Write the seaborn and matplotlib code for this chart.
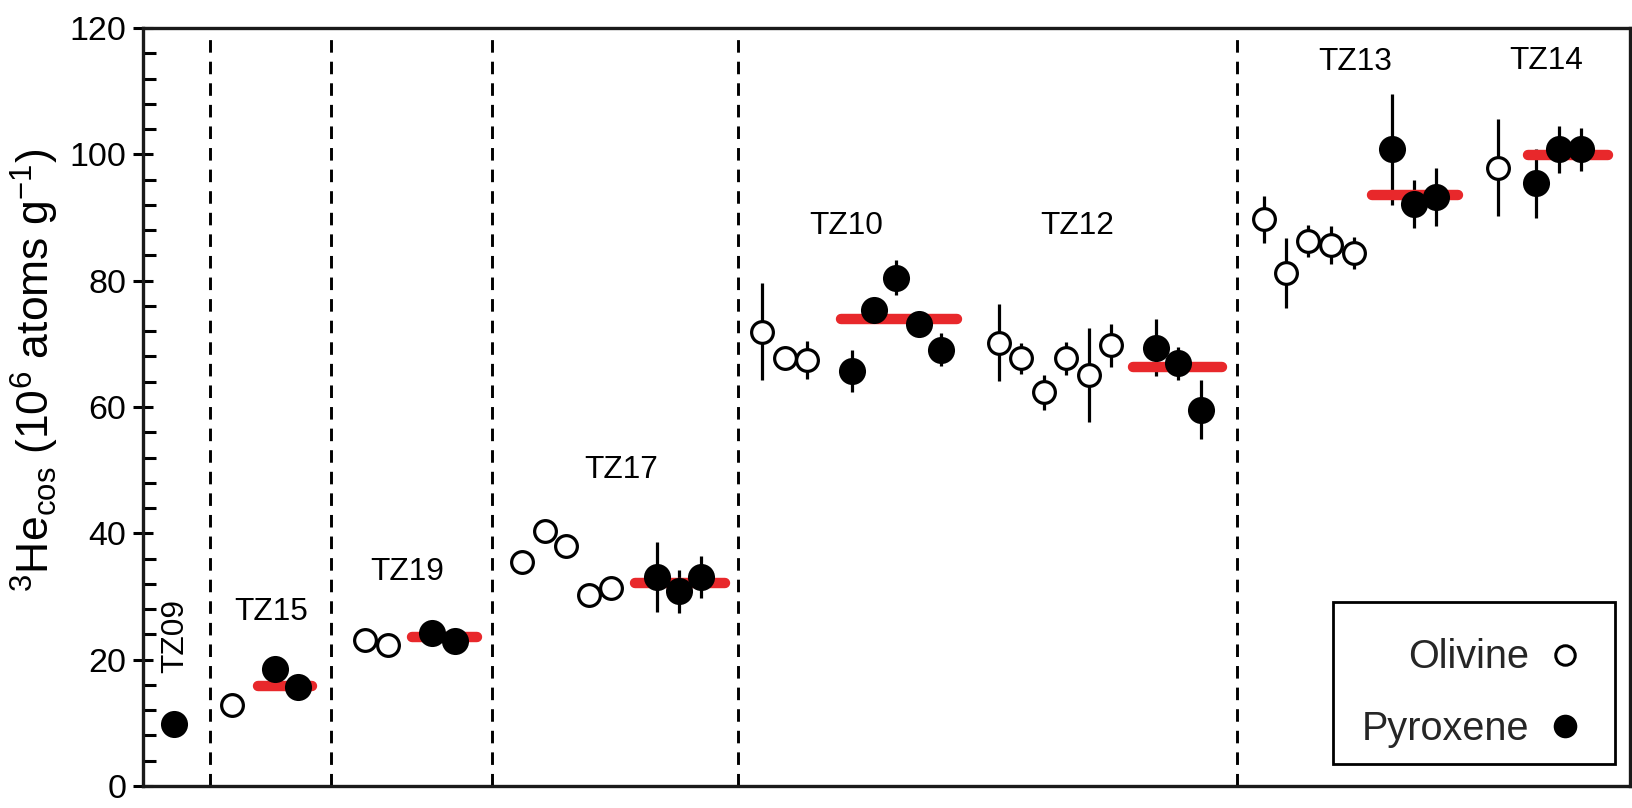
import matplotlib
matplotlib.use("Agg")
import matplotlib.pyplot as plt
from matplotlib.lines import Line2D
from matplotlib.patches import Rectangle
from matplotlib.ticker import MultipleLocator
import seaborn as sns
import pandas as pd

# ---------------- data ----------------
# olivine samples: position (sample slot), value, 1-sigma half-width
oli_x = [3.96, 9.93, 10.96, 16.94, 17.95, 18.91, 19.91, 20.92,
         27.63, 28.66, 29.64,
         38.21, 39.20, 40.22, 41.20, 42.23, 43.24,
         50.04, 51.03, 52.01, 53.04, 54.06, 60.49]
oli_y = [12.8, 23.1, 22.3, 35.5, 40.4, 38.0, 30.2, 31.4,
         71.9, 67.7, 67.4,
         70.2, 67.7, 62.3, 67.7, 65.1, 69.8,
         89.7, 81.2, 86.3, 85.6, 84.4, 97.9]
oli_err = [0, 0, 0, 0, 0, 0, 0, 0,
           7.7, 1.5, 3.0,
           6.1, 2.5, 2.8, 2.6, 7.4, 3.4,
           3.7, 5.5, 2.5, 3.0, 2.5, 7.7]

# pyroxene samples
pyx_x = [1.40, 5.89, 6.93, 12.92, 13.95, 22.93, 23.93, 24.91,
         31.64, 32.63, 33.62, 34.63, 35.63,
         45.22, 46.21, 47.23,
         55.76, 56.74, 57.72, 62.19, 63.21, 64.20]
pyx_y = [9.8, 18.6, 15.7, 24.2, 23.0, 33.1, 30.8, 33.1,
         65.7, 75.4, 80.5, 73.2, 69.1,
         69.4, 66.9, 59.6,
         100.8, 92.2, 93.3, 95.4, 100.8, 100.8]
pyx_err = [0, 0, 0, 0, 0, 5.6, 3.4, 3.3,
           3.4, 1.5, 2.8, 1.5, 2.6,
           4.5, 2.6, 4.7,
           8.8, 3.8, 4.6, 5.4, 3.7, 3.4]

# pyroxene mean (red bars)
mean_x0 = [5.13, 12.03, 21.96, 31.16, 44.21, 54.86, 61.83]
mean_x1 = [7.53, 14.91, 25.99, 36.33, 48.17, 58.71, 65.41]
mean_y = [15.9, 23.6, 32.2, 73.9, 66.4, 93.6, 99.9]

# section dividers
divider_x = [2.97, 8.39, 15.57, 26.56, 48.84]

# sample labels
label_text = ["TZ09", "TZ15", "TZ19", "TZ17", "TZ10", "TZ12", "TZ13", "TZ14"]
label_x = [1.43, 5.71, 11.81, 21.37, 31.38, 41.70, 54.11, 62.66]
label_y = [23.7, 27.6, 33.9, 50.0, 88.7, 88.7, 114.6, 114.8]
label_rot = [90, 0, 0, 0, 0, 0, 0, 0]

# ---------------- style ----------------
sns.set_theme(style="ticks")
plt.rcParams["font.family"] = ["Liberation Sans", "DejaVu Sans"]
plt.rcParams["mathtext.fontset"] = "custom"
plt.rcParams["mathtext.rm"] = "Liberation Sans"
plt.rcParams["mathtext.it"] = "Liberation Sans:italic"

fig = plt.figure(figsize=(16.32, 8.08), dpi=100)
ax = fig.add_axes([143 / 1632, 22 / 808, 1487 / 1632, 758 / 808])

oli = pd.DataFrame({"x": oli_x, "y": oli_y, "err": oli_err})
pyx = pd.DataFrame({"x": pyx_x, "y": pyx_y, "err": pyx_err})

# dividers
for xv in divider_x:
    ax.axvline(xv, ymin=0.0, ymax=0.995, color="black", lw=2.1,
               dashes=(4.3, 3.1), zorder=1)

# error bars
for df in (oli, pyx):
    m = df["err"] > 0
    ax.errorbar(df.loc[m, "x"], df.loc[m, "y"], yerr=df.loc[m, "err"],
                fmt="none", ecolor="black", elinewidth=2.3, capsize=0, zorder=2)

# mean bars
for x0, x1, yv in zip(mean_x0, mean_x1, mean_y):
    ax.plot([x0, x1], [yv, yv], color="#e8282b", lw=7.5,
            solid_capstyle="round", zorder=3)

# markers
sns.scatterplot(data=oli, x="x", y="y", ax=ax, s=245, color="white",
                edgecolor="black", linewidth=2.3, zorder=4, legend=False)
sns.scatterplot(data=pyx, x="x", y="y", ax=ax, s=380, color="black",
                edgecolor="black", linewidth=0, zorder=5, legend=False)

# labels
for t, xv, yv, r in zip(label_text, label_x, label_y, label_rot):
    ax.text(xv, yv, t, ha="center", va="center", rotation=r, fontsize=22.8,
            color="black", zorder=6)

ax.set_xlim(0, 66.4)
ax.set_ylim(0, 120)
ax.set_xticks([])
ax.yaxis.set_major_locator(MultipleLocator(20))
ax.yaxis.set_minor_locator(MultipleLocator(4))
ax.tick_params(axis="y", which="major", direction="inout", length=14,
               width=2.2, labelsize=24.5, pad=5, color="black", labelcolor="black")
ax.tick_params(axis="y", which="minor", direction="in", length=9,
               width=2.2, color="black")
for sp in ax.spines.values():
    sp.set_linewidth(2.4)
    sp.set_color("#1a1a1a")
ax.set_xlabel("")
ax.set_ylabel(r"$^{3}$He$_{\mathrm{cos}}$ (10$^{6}$ atoms g$^{-1}$)",
              fontsize=32, color="black")
ax.yaxis.set_label_coords(-0.055, 0.549)

# legend: frame drawn as a box in axes coordinates, entries placed inside
legend_box = Rectangle((0.8003, 0.029), 0.1896, 0.2141, transform=ax.transAxes,
                       facecolor="white", edgecolor="black", lw=2.0, zorder=7)
ax.add_patch(legend_box)
handles = [
    Line2D([], [], ls="none", marker="o", ms=14, mfc="white", mec="black",
           mew=2.2, label="Olivine"),
    Line2D([], [], ls="none", marker="o", ms=17, mfc="black", mec="black",
           mew=0, label="Pyroxene"),
]
leg = ax.legend(handles=handles, loc="lower right", bbox_to_anchor=(0.9697, 0.050),
                borderaxespad=0, markerfirst=False, fontsize=28.5, frameon=False,
                handlelength=1.0, handletextpad=0.4, borderpad=0.0,
                labelspacing=0.85)
leg.set_zorder(8)
for t in leg.get_texts():
    t.set_ha("right")

fig.savefig("out.png", dpi=100, facecolor="white")
